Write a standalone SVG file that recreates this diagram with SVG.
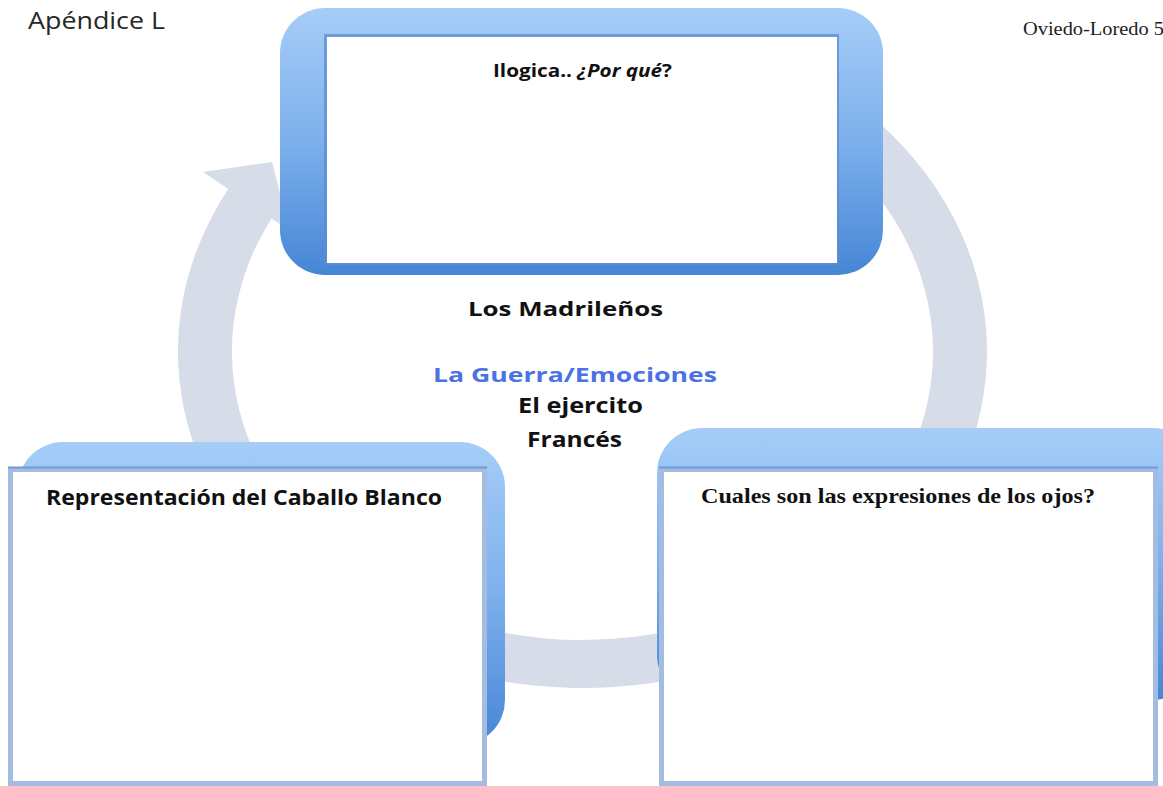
<svg xmlns="http://www.w3.org/2000/svg" width="1163" height="786" viewBox="0 0 1163 786">
<style>
.sans{font-family:"Open Sans","Liberation Sans",Arial,sans-serif}
.serif{font-family:"Liberation Serif","Times New Roman",serif}
.b{font-weight:700}
.ink{fill:#111}
.frame{fill:url(#gBlue)}
.card{fill:#fff;stroke:#a3bcdf;stroke-width:5}
.cardTop{stroke:#6f9ad6;stroke-width:2}
</style>
<defs>
<linearGradient id="gBlue" x1="0" y1="0" x2="0" y2="1">
<stop offset="0" stop-color="#a6cdf8"/>
<stop offset="0.5" stop-color="#7db0ec"/>
<stop offset="1" stop-color="#4686d6"/>
</linearGradient>
</defs>
<rect width="1163" height="786" fill="#fff"/>

<g id="connectors">
<path id="cycle-arrow" d="M 784.75 60.1 A 404.5 336.5 0 1 1 228.2 189.1 L 203 172 L 272 162 L 290 231 L 271.5 218.4 A 350.5 288.5 0 1 0 757.75 101.65 Z" fill="#d6dde9"/>
</g>

<g id="header">
<text class="sans" x="28" y="29" font-size="24" fill="#262626" textLength="137" lengthAdjust="spacingAndGlyphs">Apéndice L</text>
<text class="serif" x="1023" y="35" font-size="18" fill="#222" textLength="141" lengthAdjust="spacingAndGlyphs">Oviedo-Loredo 5</text>
</g>

<g id="node-top">
<rect class="frame" x="280" y="8" width="603" height="267" rx="45"/>
<rect x="324" y="34" width="515" height="231" fill="#5d8ccd" opacity="0.75"/>
<rect x="327" y="37" width="510" height="226" fill="#fff"/>
<text class="sans b ink" x="493" y="77" font-size="17" textLength="179" lengthAdjust="spacingAndGlyphs">Ilogica.. <tspan font-style="italic">¿Por qué</tspan>?</text>
</g>

<g id="node-left">
<rect class="frame" x="18" y="442" width="487" height="303" rx="45"/>
<rect class="card" x="10.5" y="469.5" width="474" height="314"/>
<line class="cardTop" x1="8" y1="467.5" x2="487" y2="467.5"/>
<text class="sans b ink" x="46" y="505" font-size="21" textLength="396" lengthAdjust="spacingAndGlyphs">Representación del Caballo Blanco</text>
</g>

<g id="node-right">
<rect class="frame" x="657" y="428" width="540" height="272" rx="45"/>
<rect class="card" x="661.5" y="469.5" width="494" height="314"/>
<line class="cardTop" x1="659" y1="467.5" x2="1158" y2="467.5"/>
<text class="serif b ink" x="701" y="503" font-size="22" textLength="394" lengthAdjust="spacingAndGlyphs">Cuales son las expresiones de los ojos?</text>
</g>

<g id="node-center">
<text class="sans b ink" x="468" y="316" font-size="20" textLength="195" lengthAdjust="spacingAndGlyphs">Los Madrileños</text>
<text class="sans b" x="433" y="382" font-size="20" fill="#4a72e2" textLength="284" lengthAdjust="spacingAndGlyphs">La Guerra/Emociones</text>
<text class="sans b ink" x="518" y="413" font-size="21" textLength="125" lengthAdjust="spacingAndGlyphs">El ejercito</text>
<text class="sans b ink" x="527" y="447" font-size="21" textLength="95" lengthAdjust="spacingAndGlyphs">Francés</text>
</g>
</svg>
